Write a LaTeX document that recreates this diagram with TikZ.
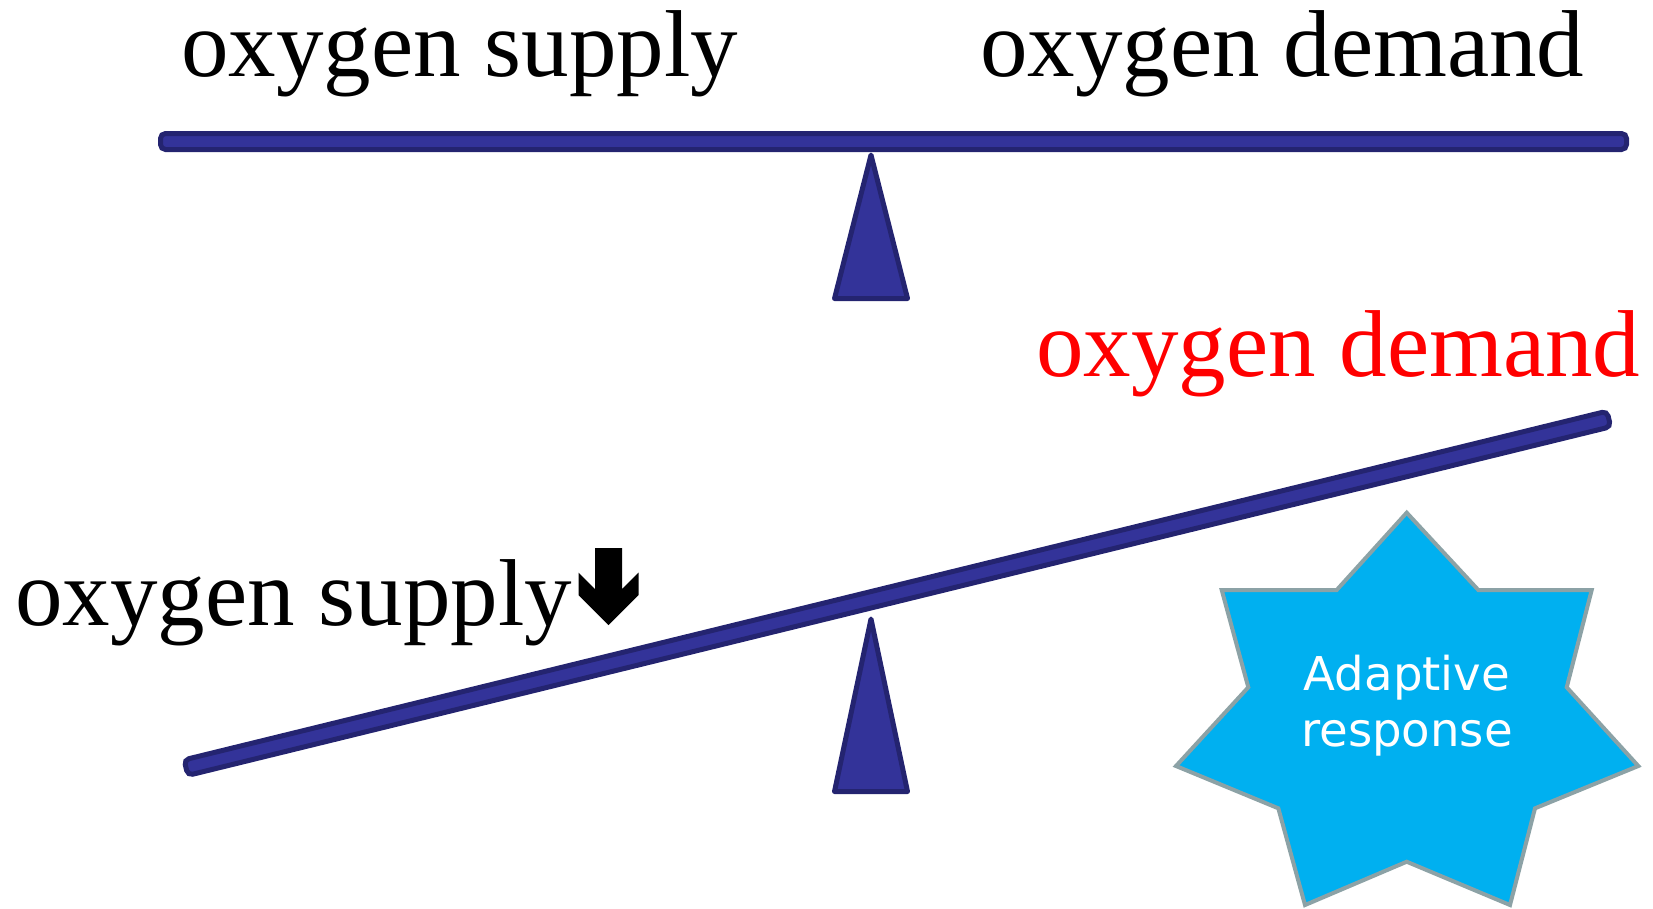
\documentclass[tikz,border=0pt]{standalone}
\usepackage{fontspec}
\setmainfont{Liberation Serif}
\newfontfamily\starfont{DejaVu Sans}
\definecolor{beamfill}{RGB}{51,51,153}
\definecolor{beamline}{RGB}{36,36,112}
\definecolor{starfill}{RGB}{0,176,240}
\definecolor{starline}{RGB}{140,162,166}
\begin{document}
\begin{tikzpicture}[x=1pt,y=-1pt,
  beam/.style={fill=beamfill,draw=beamline,line width=5pt,rounded corners=5pt},
  fulcrum/.style={fill=beamfill,draw=beamline,line width=5pt,line join=round},
  biglabel/.style={inner sep=0pt,anchor=base west,font=\fontsize{95}{95}\selectfont},
  startext/.style={inner sep=0pt,anchor=base,text=white,font=\starfont\fontsize{46.6}{56}\selectfont}]
\useasboundingbox (0,0) rectangle (1653,908);

% top balance
\draw[fulcrum] (871,155) -- (907.5,298.5) -- (834.5,298.5) -- cycle;
\draw[beam] (160.5,133.5) rectangle (1626.5,149.5);
\node[biglabel] (supplyTop) at (181,76) {oxygen supply};
\node[biglabel] (demandTop) at (980,76) {oxygen demand};

% bottom balance
\draw[fulcrum] (871,619) -- (907.5,791.5) -- (834.5,791.5) -- cycle;
\draw[beam, rotate around={13.77:(897.4,593.3)}] (164.9,585.3) rectangle (1629.9,601.3);
\node[biglabel, text=red] (demandBot) at (1036,376) {oxygen demand};
\node[biglabel] (supplyBot) at (15,625) {oxygen supply};

% down arrow
\fill[black] (595,548) -- (622,548) -- (622,589) -- (638.5,572.5) -- (638.5,595)
  -- (608.5,625) -- (578.5,595) -- (578.5,572.5) -- (595,589) -- cycle;

% star
\draw[fill=starfill, draw=starline, line width=4pt, line join=miter]
  (1406.7,512.7) -- (1478.3,590) -- (1591.7,590) -- (1566.7,687.3) -- (1638.3,766)
  -- (1535,808.3) -- (1510,905) -- (1406.7,861.7) -- (1305,905) -- (1278.3,808.3)
  -- (1176,766) -- (1248.3,687.3) -- (1221.7,590) -- (1336.7,590) -- cycle;
\node[startext] (adapt) at (1407,690) {Adaptive};
\node[startext] (resp) at (1407,746.7) {response};
\end{tikzpicture}
\end{document}
